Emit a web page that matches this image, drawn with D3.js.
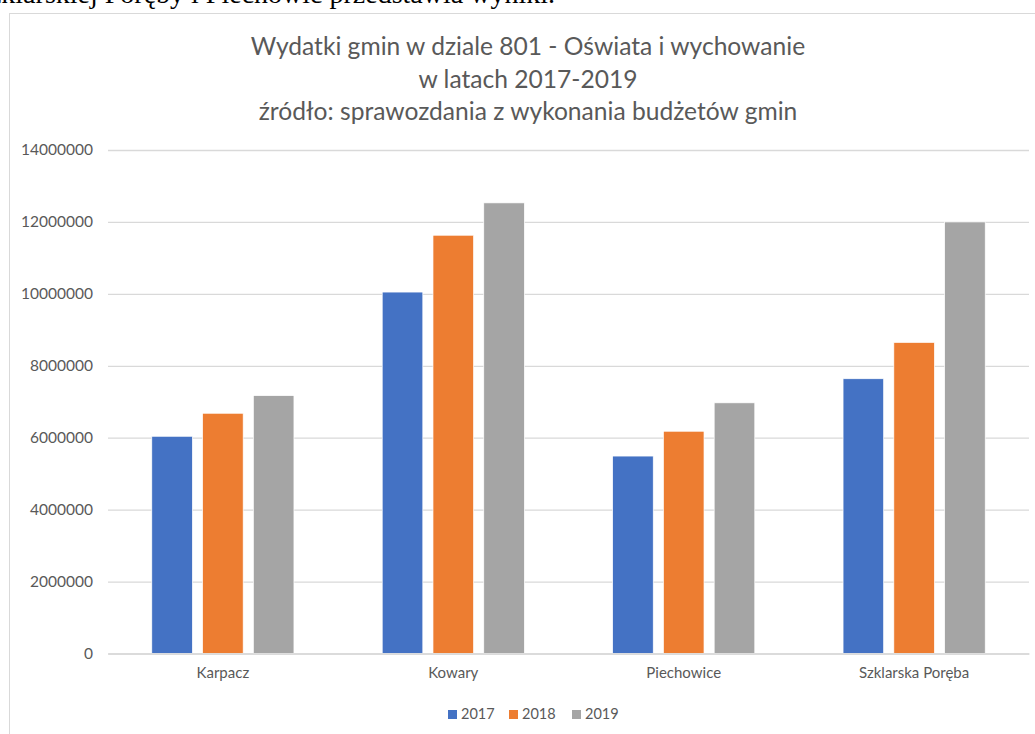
<!DOCTYPE html>
<html><head><meta charset="utf-8">
<script src="https://cdn.jsdelivr.net/npm/d3@7"></script>
<style>body{margin:0;background:#fff;overflow:hidden}</style>
</head><body>
<svg id="c" width="1035" height="734"></svg>
<script>
const categories = ["Karpacz", "Kowary", "Piechowice", "Szklarska Poręba"];
const years = ["2017", "2018", "2019"];
const values2017 = [6040000, 10050000, 5490000, 7640000];
const values2018 = [6680000, 11630000, 6180000, 8650000];
const values2019 = [7170000, 12530000, 6970000, 12000000];
const yTicks = [0, 2000000, 4000000, 6000000, 8000000, 10000000, 12000000, 14000000];
const colors = ["#4472c4", "#ed7d31", "#a5a5a5"];
const titleLines = ["Wydatki gmin w dziale 801 - Oświata i wychowanie", "w latach 2017-2019", "źródło: sprawozdania z wykonania budżetów gmin"];
const series = [values2017, values2018, values2019];

const svg = d3.select("#c");
const font = "Lato, 'Open Sans', sans-serif";

// document text above (clipped by the page edge, as in the reference)
svg.append("text").attr("x", 555).attr("y", 3).attr("text-anchor", "end")
  .attr("font-family", "'Liberation Serif', serif").attr("font-size", 28).attr("fill", "#000")
  .text("Szklarskiej Poręby i Piechowic przedstawia wyniki.");

// chart border
svg.append("rect").attr("x", 9.5).attr("y", 13.5).attr("width", 1040).attr("height", 740)
  .attr("fill", "#fff").attr("stroke", "#d9d9d9").attr("stroke-width", 1);

const x0 = d3.scaleBand().domain(categories).range([108, 1029]).paddingInner(0.383).paddingOuter(0.19);
const x1 = d3.scaleBand().domain(years).range([0, x0.bandwidth()]).paddingInner(0.2);
const y = d3.scaleLinear().domain([0, 14000000]).range([653.5, 150]);

// grid
const yAxis = d3.axisLeft(y).tickValues(yTicks).tickFormat(d3.format("d")).tickSize(-(1029 - 108)).tickPadding(15);
const ga = svg.append("g").attr("transform", "translate(108,0)").call(yAxis);
ga.select(".domain").remove();
ga.selectAll(".tick line").attr("stroke", "#d9d9d9").attr("stroke-width", 1.3);
ga.selectAll(".tick text").attr("fill", "#595959").attr("font-family", font).attr("font-size", 15.5);

// bars
const groups = svg.append("g").selectAll("g").data(categories).join("g")
  .attr("transform", d => `translate(${x0(d)},0)`);
groups.selectAll("rect").data((d, i) => years.map((yr, j) => ({yr, v: series[j][i], j})))
  .join("rect")
  .attr("x", d => x1(d.yr)).attr("width", x1.bandwidth())
  .attr("y", d => y(d.v)).attr("height", d => y(0) - y(d.v))
  .attr("fill", d => colors[d.j]).attr("stroke", "#fff").attr("stroke-width", 0.7);

// x axis
const xAxis = d3.axisBottom(x0).tickSize(0).tickPadding(14);
const gx = svg.append("g").attr("transform", `translate(0,${y(0)})`).call(xAxis);
gx.select(".domain").attr("stroke", "#d9d9d9").attr("stroke-width", 1.3);
gx.selectAll(".tick text").attr("fill", "#595959").attr("font-family", font).attr("font-size", 15);

// title
svg.append("g").selectAll("text").data(titleLines).join("text")
  .attr("x", 528).attr("y", (d, i) => 55 + i * 32.5).attr("text-anchor", "middle")
  .attr("fill", "#595959").attr("font-family", font).attr("font-size", 24.6).text(d => d);

// legend
const legX = [448, 509, 572];
const lg = svg.append("g").selectAll("g").data(years).join("g")
  .attr("transform", (d, i) => `translate(${legX[i]},710)`);
lg.append("rect").attr("width", 9).attr("height", 9).attr("fill", (d, i) => colors[i]);
lg.append("text").attr("x", 13).attr("y", 9).attr("fill", "#595959")
  .attr("font-family", font).attr("font-size", 14.5).text(d => d);
</script>
</body></html>
